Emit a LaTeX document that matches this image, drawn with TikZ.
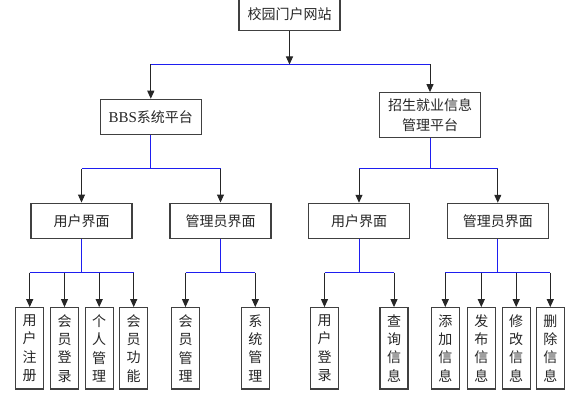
\documentclass[tikz,border=0pt]{standalone}
\usepackage{fontspec}
\setmainfont{Liberation Serif}
\newfontfamily\cjk{Noto Sans CJK SC}
\usetikzlibrary{arrows.meta}
\begin{document}
\begin{tikzpicture}[x=1pt,y=-1pt,
  box/.style={draw=black!75,line width=1.1pt,fill=white,inner sep=0pt,text=black!85,font=\fontsize{14}{20}\selectfont\cjk},
  wide/.style={box,minimum width=101pt,minimum height=35.4pt},
  leaf/.style={box,minimum width=28pt,minimum height=81.3pt,align=center,font=\fontsize{14}{18.3}\selectfont\cjk},
  bl/.style={draw={rgb,255:red,30;green,30;blue,240},line width=1pt},
  ar/.style={draw=black!85,line width=1pt,-{Triangle[width=7pt,length=8pt]}}]
\useasboundingbox (0,0) rectangle (573,401);
% nodes
\node[box,minimum width=101pt,minimum height=33pt] (top) at (289.5,14) {校园门户网站};
\node[wide] (bbs) at (150.8,117) {{\rmfamily\fontsize{15}{16}\selectfont BBS}系统平台};
\node[box,minimum width=100.6pt,minimum height=45pt,align=center] (zs) at (430,115.2) {招生就业信息\\管理平台};
\node[wide] (u1) at (81.5,220.8) {用户界面};
\node[wide] (a1) at (220.5,220.8) {管理员界面};
\node[wide] (u2) at (359,221) {用户界面};
\node[wide] (a2) at (497.8,221) {管理员界面};
\foreach \n/\x/\t in {l1/29.7/{用\\户\\注\\册},l2/64.5/{会\\员\\登\\录},l3/99.2/{个\\人\\管\\理},l4/133.7/{会\\员\\功\\能},
  l5/185.5/{会\\员\\管\\理},l6/255.3/{系\\统\\管\\理},
  l7/324.5/{用\\户\\登\\录},l8/394/{查\\询\\信\\息},
  l9/445.3/{添\\加\\信\\息},l10/481.3/{发\\布\\信\\息},l11/516.2/{修\\改\\信\\息},l12/550.3/{删\\除\\信\\息}}
  \node[leaf] (\n) at (\x,348.3) {\t};
% junctions
\coordinate (j0) at (289.5,64.5);
\coordinate (j1) at (150.8,169);
\coordinate (j2) at (430,169);
\coordinate (j3) at (81.5,272.7);
\coordinate (j4) at (220.5,272.7);
\coordinate (j5) at (359,272.7);
\coordinate (j6) at (497.8,272.7);
% level 1
\draw[bl] (bbs.north |- j0) -- (zs.north |- j0);
\draw[ar] (top.south) -- (j0);
\draw[ar] (bbs.north |- j0) -- (bbs.north);
\draw[ar] (zs.north |- j0) -- (zs.north);
% level 2
\draw[bl] (bbs.south) -- (j1);
\draw[bl] (zs.south) -- (j2);
\draw[bl] (u1.north |- j1) -- (a1.north |- j1);
\draw[bl] (u2.north |- j2) -- (a2.north |- j2);
\foreach \c/\j in {u1/j1,a1/j1,u2/j2,a2/j2}
  \draw[ar] (\c.north |- \j) -- (\c.north);
% level 3
\foreach \p/\j in {u1/j3,a1/j4,u2/j5,a2/j6}
  \draw[bl] (\p.south) -- (\j);
\draw[bl] (l1.north |- j3) -- (l4.north |- j3);
\draw[bl] (l5.north |- j4) -- (l6.north |- j4);
\draw[bl] (l7.north |- j5) -- (l8.north |- j5);
\draw[bl] (l9.north |- j6) -- (l12.north |- j6);
\foreach \c/\j in {l1/j3,l2/j3,l3/j3,l4/j3,l5/j4,l6/j4,l7/j5,l8/j5,l9/j6,l10/j6,l11/j6,l12/j6}
  \draw[ar] (\c.north |- \j) -- (\c.north);
\end{tikzpicture}
\end{document}
